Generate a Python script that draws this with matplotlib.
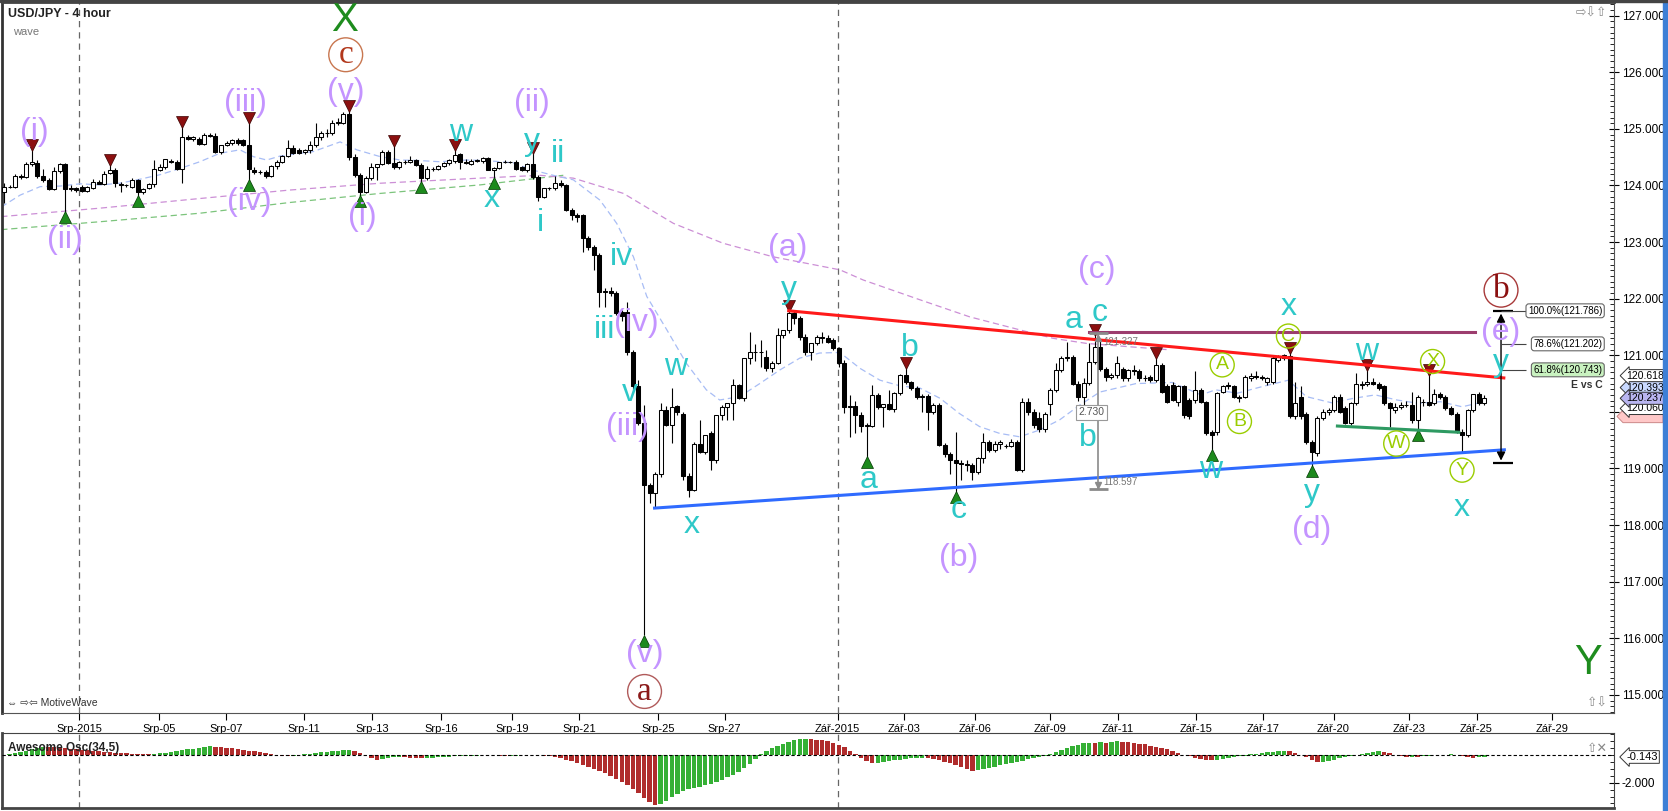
import numpy as np
import matplotlib.pyplot as plt
from matplotlib.ticker import MultipleLocator, FixedLocator
from matplotlib.patches import Rectangle, Polygon

plt.rcParams['font.family'] = ['Liberation Sans', 'DejaVu Sans']

# ---- 4h candles USD/JPY ----
opens = [123.89, 123.98, 123.97, 124.16, 124.15, 124.38, 124.40, 124.17, 124.10, 123.93,
         124.25, 124.38, 123.93, 123.95, 123.97, 123.90, 123.95, 124.07, 124.03, 124.22,
         124.28, 124.03, 124.01, 123.98, 124.09, 123.89, 123.95, 124.02, 124.28, 124.32,
         124.43, 124.42, 124.30, 124.86, 124.83, 124.82, 124.74, 124.89, 124.88, 124.60,
         124.72, 124.75, 124.80, 124.80, 124.72, 124.28, 124.24, 124.24, 124.17, 124.34,
         124.42, 124.52, 124.66, 124.62, 124.60, 124.62, 124.72, 124.86, 124.92, 124.92,
         125.10, 125.10, 125.26, 124.51, 124.19, 123.89, 124.14, 124.32, 124.38, 124.60,
         124.40, 124.32, 124.42, 124.42, 124.45, 124.36, 124.13, 124.30, 124.30, 124.34,
         124.39, 124.43, 124.55, 124.42, 124.38, 124.44, 124.43, 124.48, 124.28, 124.31,
         124.42, 124.42, 124.42, 124.33, 124.27, 124.38, 124.15, 123.80, 123.95, 123.95,
         124.05, 124.00, 123.57, 123.48, 123.48, 123.08, 122.92, 122.77, 122.12, 122.13,
         122.10, 121.76, 121.77, 121.06, 120.45, 119.80, 118.71, 118.56, 118.91, 120.03,
         119.77, 120.10, 119.96, 118.86, 118.62, 119.44, 119.30, 119.62, 119.15, 119.95,
         120.08, 120.15, 120.47, 120.24, 120.95, 121.06, 121.05, 120.97, 120.77, 120.86,
         121.36, 121.45, 121.75, 121.65, 121.33, 121.06, 121.21, 121.32, 121.30, 121.27,
         121.12, 120.86, 120.09, 120.10, 119.94, 119.75, 119.75, 120.30, 120.09, 120.14,
         120.05, 120.33, 120.65, 120.52, 120.43, 120.27, 120.28, 119.99, 120.13, 119.41,
         119.26, 119.15, 119.09, 119.08, 119.07, 118.94, 119.18, 119.47, 119.33, 119.44,
         119.40, 119.40, 119.47, 118.97, 120.18, 120.00, 119.90, 119.70, 120.14, 120.39,
         120.74, 120.96, 120.97, 120.50, 120.27, 120.51, 120.89, 121.15, 120.75, 120.62,
         120.65, 120.75, 120.60, 120.74, 120.73, 120.60, 120.62, 120.56, 120.83, 120.45,
         120.47, 120.18, 120.45, 120.21, 120.21, 120.39, 120.18, 119.65, 119.65, 120.36,
         120.47, 120.45, 120.27, 120.27, 120.59, 120.63, 120.61, 120.53, 120.53, 120.92,
         120.95, 120.98, 119.92, 120.27, 119.97, 119.46, 119.27, 119.89, 120.00, 120.03,
         120.27, 120.06, 119.80, 120.15, 120.47, 120.50, 120.53, 120.50, 120.45, 120.15,
         120.03, 120.09, 120.12, 120.12, 119.86, 120.18, 120.18, 120.15, 120.32, 120.27,
         120.06, 119.97, 119.65, 119.59, 120.03, 120.32, 120.15]
highs = [124.04, 124.01, 124.21, 124.21, 124.42, 124.62, 124.45, 124.29, 124.14, 124.32,
         124.40, 124.40, 124.00, 123.98, 124.00, 123.99, 124.12, 124.10, 124.25, 124.38,
         124.31, 124.06, 124.03, 124.13, 124.12, 123.95, 124.05, 124.45, 124.38, 124.47,
         124.46, 124.45, 125.04, 124.90, 124.88, 124.85, 124.92, 124.92, 124.92, 124.72,
         124.78, 124.82, 124.84, 124.82, 125.10, 124.32, 124.27, 124.28, 124.36, 124.45,
         124.54, 124.80, 124.72, 124.66, 124.65, 124.78, 125.10, 124.97, 125.00, 125.15,
         125.20, 125.30, 125.33, 124.55, 124.22, 124.16, 124.40, 124.38, 124.62, 124.62,
         124.70, 124.44, 124.45, 124.52, 124.47, 124.40, 124.35, 124.33, 124.37, 124.42,
         124.47, 124.63, 124.58, 124.46, 124.46, 124.47, 124.50, 124.50, 124.33, 124.42,
         124.45, 124.44, 124.45, 124.35, 124.40, 124.58, 124.18, 123.95, 123.98, 124.16,
         124.10, 124.02, 123.60, 123.52, 123.50, 123.10, 122.95, 122.80, 122.18, 122.20,
         122.14, 121.80, 121.95, 121.10, 120.56, 120.12, 118.75, 118.94, 120.15, 120.10,
         120.42, 120.12, 120.00, 118.92, 119.47, 119.85, 119.60, 119.66, 119.95, 120.13,
         120.15, 120.58, 120.50, 120.95, 121.42, 121.20, 121.27, 121.10, 120.90, 121.48,
         121.45, 121.79, 121.79, 121.70, 121.38, 121.22, 121.36, 121.42, 121.35, 121.30,
         121.15, 120.92, 120.30, 120.20, 120.00, 119.80, 120.47, 120.33, 120.14, 120.39,
         120.35, 120.67, 120.77, 120.55, 120.45, 120.32, 120.31, 120.16, 120.15, 119.45,
         119.30, 119.65, 119.15, 119.15, 119.10, 119.20, 119.63, 119.50, 119.48, 119.50,
         119.43, 119.52, 119.50, 120.24, 120.25, 120.05, 120.00, 120.00, 120.43, 120.86,
         120.98, 121.24, 121.00, 120.55, 120.59, 121.21, 121.36, 121.25, 120.80, 120.68,
         120.99, 120.80, 120.75, 120.83, 120.76, 120.65, 120.65, 120.95, 120.86, 120.50,
         120.52, 120.47, 120.48, 120.25, 120.72, 120.42, 120.20, 119.68, 120.35, 120.48,
         120.52, 120.48, 120.30, 120.65, 120.68, 120.72, 120.65, 120.62, 120.98, 121.00,
         121.03, 121.05, 120.53, 120.45, 120.00, 119.50, 119.92, 120.05, 120.07, 120.30,
         120.32, 120.10, 120.18, 120.68, 120.55, 120.74, 120.60, 120.52, 120.48, 120.18,
         120.15, 120.18, 120.20, 120.36, 120.30, 120.22, 120.65, 120.40, 120.36, 120.30,
         120.10, 120.00, 119.70, 120.05, 120.32, 120.36, 120.30]
lows = [123.69, 123.95, 123.96, 124.11, 124.14, 124.34, 124.14, 124.07, 123.92, 123.92,
        124.22, 123.54, 123.90, 123.88, 123.88, 123.88, 123.93, 124.02, 124.00, 124.20,
        123.98, 123.89, 123.98, 123.95, 123.81, 123.85, 123.93, 123.98, 124.25, 124.30,
        124.40, 124.27, 124.04, 124.80, 124.78, 124.72, 124.72, 124.86, 124.58, 124.55,
        124.70, 124.72, 124.72, 124.70, 124.10, 124.20, 124.20, 124.14, 124.15, 124.30,
        124.40, 124.50, 124.55, 124.55, 124.56, 124.58, 124.68, 124.80, 124.85, 124.90,
        125.06, 125.08, 124.45, 124.15, 123.81, 123.86, 124.10, 124.09, 124.36, 124.38,
        124.30, 124.30, 124.38, 124.40, 124.35, 124.07, 124.10, 124.25, 124.28, 124.32,
        124.36, 124.40, 124.30, 124.38, 124.36, 124.41, 124.40, 124.27, 124.13, 124.29,
        124.39, 124.40, 124.27, 124.26, 124.24, 124.12, 123.72, 123.78, 123.92, 123.92,
        123.97, 123.55, 123.39, 123.36, 122.83, 122.86, 122.51, 121.86, 121.86, 122.05,
        121.72, 121.60, 121.00, 120.39, 119.76, 116.05, 118.39, 118.30, 118.85, 119.75,
        119.45, 119.95, 118.80, 118.50, 118.60, 119.28, 119.25, 118.97, 119.10, 119.85,
        119.85, 119.85, 120.22, 120.20, 120.85, 120.90, 120.80, 120.73, 120.70, 120.85,
        121.30, 121.40, 121.55, 121.27, 121.00, 120.92, 121.18, 121.22, 121.22, 121.10,
        120.80, 119.98, 119.56, 119.62, 119.65, 119.21, 119.73, 120.05, 119.74, 120.04,
        119.99, 120.30, 120.50, 120.38, 120.22, 120.00, 119.68, 119.97, 119.40, 119.20,
        118.91, 118.59, 118.80, 118.95, 118.80, 118.90, 119.10, 119.30, 119.30, 119.35,
        119.36, 119.38, 118.95, 118.93, 119.95, 119.72, 119.65, 119.65, 119.95, 120.35,
        120.70, 120.90, 120.47, 120.20, 120.10, 120.48, 120.85, 120.72, 120.55, 120.58,
        120.60, 120.55, 120.55, 120.65, 120.55, 120.55, 120.52, 120.52, 120.33, 120.15,
        120.20, 120.10, 119.90, 119.88, 120.15, 120.16, 119.60, 119.33, 119.60, 120.33,
        120.40, 120.25, 120.18, 120.24, 120.55, 120.58, 120.56, 120.48, 120.50, 120.88,
        120.92, 119.90, 119.88, 119.88, 119.44, 119.05, 119.22, 119.85, 119.95, 120.00,
        119.98, 119.78, 119.76, 120.12, 120.40, 120.45, 120.48, 120.38, 120.12, 119.74,
        119.98, 120.05, 120.08, 119.80, 119.68, 120.10, 120.10, 120.12, 120.22, 120.04,
        119.94, 119.62, 119.30, 119.55, 120.00, 120.12, 120.12]
closes = [123.98, 123.97, 124.16, 124.15, 124.38, 124.42, 124.17, 124.10, 123.93, 124.26,
          124.38, 123.93, 123.95, 123.92, 123.90, 123.97, 124.07, 124.03, 124.21, 124.28,
          124.04, 124.01, 124.00, 124.09, 123.89, 123.93, 124.02, 124.30, 124.32, 124.46,
          124.42, 124.30, 124.86, 124.83, 124.85, 124.74, 124.89, 124.88, 124.60, 124.71,
          124.75, 124.80, 124.75, 124.72, 124.30, 124.24, 124.23, 124.17, 124.34, 124.42,
          124.52, 124.66, 124.58, 124.57, 124.62, 124.72, 124.86, 124.92, 124.93, 125.10,
          125.12, 125.26, 124.51, 124.19, 123.89, 124.14, 124.32, 124.38, 124.60, 124.39,
          124.32, 124.42, 124.42, 124.45, 124.36, 124.13, 124.30, 124.30, 124.34, 124.39,
          124.45, 124.54, 124.42, 124.40, 124.44, 124.45, 124.48, 124.28, 124.31, 124.42,
          124.42, 124.42, 124.29, 124.27, 124.38, 124.15, 123.80, 123.95, 123.95, 124.05,
          124.00, 123.57, 123.48, 123.45, 123.08, 122.92, 122.77, 122.12, 122.13, 122.10,
          121.74, 121.70, 121.06, 120.45, 119.80, 118.71, 118.56, 118.91, 120.03, 119.77,
          120.09, 120.00, 118.86, 118.62, 119.44, 119.30, 119.59, 119.15, 119.95, 120.08,
          120.15, 120.47, 120.24, 120.95, 121.06, 121.05, 121.05, 120.77, 120.86, 121.36,
          121.45, 121.75, 121.65, 121.33, 121.06, 121.21, 121.32, 121.30, 121.24, 121.12,
          120.86, 120.09, 120.10, 119.94, 119.75, 119.76, 120.30, 120.09, 120.14, 120.05,
          120.33, 120.65, 120.52, 120.43, 120.27, 120.28, 119.99, 120.13, 119.41, 119.26,
          119.15, 119.09, 119.08, 119.07, 118.94, 119.18, 119.47, 119.33, 119.44, 119.46,
          119.40, 119.47, 118.97, 120.18, 120.00, 119.77, 119.70, 119.97, 120.39, 120.74,
          120.96, 120.97, 120.50, 120.27, 120.51, 120.89, 121.15, 120.75, 120.62, 120.65,
          120.86, 120.60, 120.74, 120.73, 120.60, 120.59, 120.56, 120.83, 120.36, 120.18,
          120.21, 120.45, 119.95, 119.92, 120.39, 120.18, 119.62, 119.59, 120.33, 120.45,
          120.45, 120.27, 120.24, 120.62, 120.63, 120.62, 120.60, 120.59, 120.95, 120.98,
          121.00, 119.92, 120.15, 119.92, 119.46, 119.30, 119.89, 120.00, 120.03, 120.27,
          120.00, 119.80, 120.15, 120.50, 120.50, 120.53, 120.50, 120.42, 120.15, 120.06,
          120.09, 120.12, 120.12, 119.86, 120.27, 120.18, 120.12, 120.32, 120.27, 120.06,
          119.97, 119.65, 119.59, 120.03, 120.32, 120.15, 120.24]

# Awesome oscillator (34,5), one value per candle
ao_values = [0.02, 0.08, 0.15, 0.23, 0.32, 0.42, 0.52, 0.60, 0.58, 0.55,
             0.52, 0.48, 0.45, 0.42, 0.38, 0.35, 0.32, 0.28, 0.24, 0.20,
             0.17, 0.14, 0.12, 0.10, 0.08, 0.06, 0.05, 0.08, 0.12, 0.17,
             0.22, 0.28, 0.34, 0.40, 0.46, 0.52, 0.57, 0.62, 0.60, 0.57,
             0.53, 0.48, 0.43, 0.38, 0.32, 0.26, 0.20, 0.14, 0.07, 0.00,
             -0.06, -0.10, -0.06, 0.00, 0.05, 0.10, 0.15, 0.19, 0.23, 0.27,
             0.30, 0.33, 0.36, 0.30, 0.15, 0.00, -0.20, -0.36, -0.30, -0.22,
             -0.15, -0.15, -0.18, -0.20, -0.22, -0.25, -0.23, -0.20, -0.18, -0.15,
             -0.12, -0.10, -0.08, -0.06, -0.05, -0.04, -0.03, -0.02, -0.03, -0.05,
             -0.06, -0.05, -0.04, -0.03, -0.02, -0.01, 0.00, -0.05, -0.10, -0.17,
             -0.25, -0.35, -0.46, -0.58, -0.71, -0.85, -1.00, -1.16, -1.33, -1.52,
             -1.72, -1.95, -2.20, -2.48, -2.78, -3.10, -3.40, -3.62, -3.55, -3.30,
             -3.00, -2.80, -2.60, -2.45, -2.35, -2.28, -2.20, -2.10, -1.95, -1.80,
             -1.62, -1.42, -1.20, -0.95, -0.65, -0.30, 0.05, 0.30, 0.50, 0.68,
             0.82, 0.95, 1.05, 1.13, 1.18, 1.16, 1.12, 1.06, 0.98, 0.88,
             0.75, 0.55, 0.30, 0.05, -0.20, -0.42, -0.60, -0.58, -0.52, -0.45,
             -0.38, -0.33, -0.28, -0.25, -0.22, -0.20, -0.24, -0.30, -0.38, -0.47,
             -0.58, -0.70, -0.85, -1.00, -1.12, -1.10, -1.02, -0.93, -0.84, -0.75,
             -0.66, -0.57, -0.48, -0.40, -0.32, -0.24, -0.16, -0.08, 0.05, 0.20,
             0.35, 0.50, 0.62, 0.74, 0.84, 0.90, 0.88, 0.92, 0.89, 0.95,
             1.00, 0.97, 0.93, 0.88, 0.82, 0.76, 0.68, 0.60, 0.50, 0.40,
             0.28, 0.15, 0.02, -0.10, -0.20, -0.28, -0.34, -0.38, -0.36, -0.30,
             -0.24, -0.17, -0.10, -0.04, 0.04, 0.10, 0.16, 0.21, 0.25, 0.28,
             0.30, 0.26, 0.15, 0.02, -0.15, -0.35, -0.52, -0.50, -0.42, -0.33,
             -0.25, -0.17, -0.10, -0.03, 0.05, 0.14, 0.22, 0.28, 0.22, 0.12,
             0.02, -0.08, -0.15, -0.12, -0.14, -0.10, -0.06, -0.03, 0.00, 0.03,
             0.05, 0.00, -0.08, -0.16, -0.22, -0.18, -0.14]

# moving averages drawn on the chart (bar index, price)
ma_fast_x = [-0.5, 2.9, 6.5, 10.1, 13.7, 17.3, 20.8, 24.4, 28.0, 31.6, 35.2, 38.8, 42.4, 44.8,
             47.2, 49.6, 55.6, 60.4, 63.4, 67.6, 71.2, 74.8, 78.3, 83.1, 86.7, 91.5, 95.1, 98.7,
             102.3, 107.1, 110.1, 113.1, 115.5, 119.1, 122.6, 126.2, 128.6, 132.2, 135.8, 139.4,
             143.0, 146.6, 150.2, 153.8, 157.4, 161.0, 164.6, 168.2, 171.7, 175.3, 178.9, 182.5,
             186.1, 189.7, 193.3, 196.9, 203.4, 209.9, 215.1, 217.7, 221.6, 226.2, 230.8, 234.0,
             238.6, 242.5, 246.4, 250.3, 254.2, 258.1, 262.0, 266.0]
ma_fast_y = [123.62, 123.83, 123.98, 123.99, 124.03, 124.01, 124.04, 124.11, 124.19, 124.30,
             124.42, 124.57, 124.63, 124.51, 124.45, 124.52, 124.60, 124.77, 124.63, 124.51,
             124.45, 124.44, 124.42, 124.45, 124.44, 124.40, 124.27, 124.18, 124.10, 123.74,
             123.33, 122.74, 122.04, 121.45, 120.86, 120.39, 120.21, 120.27, 120.50, 120.74,
             120.95, 121.04, 121.05, 120.77, 120.56, 120.46, 120.42, 120.24, 119.97, 119.74,
             119.62, 119.56, 119.68, 119.86, 120.12, 120.35, 120.50, 120.52, 120.30, 120.39,
             120.33, 120.45, 120.56, 120.27, 120.16, 120.24, 120.30, 120.21, 120.15, 120.18,
             120.09, 120.18]
ma_mid_x = [-0.5, 17.3, 35.2, 51.4, 67.6, 85.5, 96.3, 102.3, 111.3, 120.3, 129.2, 138.2,
            150.2, 154.4, 164.6, 173.5, 182.5, 188.5, 194.5, 201.0, 209.0]
ma_mid_y = [123.45, 123.60, 123.77, 123.92, 124.04, 124.13, 124.18, 124.13, 123.86, 123.33,
            122.98, 122.74, 122.51, 122.33, 121.98, 121.68, 121.45, 121.30, 121.21, 121.16, 121.10]
ma_slow_x = [-0.5, 17.3, 35.2, 51.4, 67.6, 85.5, 100.5]
ma_slow_y = [123.22, 123.36, 123.51, 123.70, 123.86, 124.01, 124.18]

# swing markers
swing_high_x = [5, 19, 32, 44, 62, 70, 81, 95, 141, 162, 196, 207, 231, 245, 256]
swing_high_y = [124.72, 124.45, 125.13, 125.19, 125.41, 124.79, 124.72, 124.67, 121.87,
                120.86, 121.45, 121.04, 121.13, 120.83, 120.74]
swing_low_x = [11, 24, 44, 64, 75, 88, 115, 155, 171, 217, 235, 254]
swing_low_y = [123.45, 123.72, 124.01, 123.72, 123.98, 124.04, 115.96, 119.12, 118.50,
               119.24, 118.96, 119.59]

date_ticks = [13.5, 27.8, 39.9, 53.9, 66.1, 78.6, 91.3, 103.4, 117.5, 129.5, 149.8, 161.7,
              174.4, 188.0, 200.1, 214.2, 226.2, 238.9, 252.4, 264.6, 278.1]
date_labels = ['Srp-2015', 'Srp-05', 'Srp-07', 'Srp-11', 'Srp-13', 'Srp-16', 'Srp-19',
               'Srp-21', 'Srp-25', 'Srp-27', 'Zář-2015', 'Zář-03', 'Zář-06', 'Zář-09',
               'Zář-11', 'Zář-15', 'Zář-17', 'Zář-20', 'Zář-23', 'Zář-25', 'Zář-29']
month_starts = [13.5, 149.8]

fib_levels = [121.786, 121.202, 120.743]
fib_names = ['100.0%', '78.6%', '61.8%']

LAV = '#c494ff'
CYAN = '#2ec8c8'
YG = '#9acd00'

n = len(closes)
x = np.arange(n)
o = np.array(opens); h = np.array(highs); l = np.array(lows); c = np.array(closes)
up = c >= o

W, H = 1668, 811
fig = plt.figure(figsize=(W / 100, H / 100), dpi=100)
ax = fig.add_axes([2 / W, 1 - 712.7 / H, 1612 / W, 710.7 / H])
osc = fig.add_axes([2 / W, 1 - 808 / H, 1612 / W, 75 / H])

# moving averages
ax.plot(ma_slow_x, ma_slow_y, color='#7cc47c', lw=0.9, dashes=(5, 3), zorder=1)
ax.plot(ma_mid_x, ma_mid_y, color='#cc8fd6', lw=0.9, dashes=(5, 3), zorder=1)
ax.plot(ma_fast_x, ma_fast_y, color='#a8bdf5', lw=0.9, dashes=(5, 3), zorder=1)

# candles
ax.vlines(x, l, h, color='black', lw=0.8, zorder=3)
ax.bar(x[up], (c - o)[up], bottom=o[up], width=0.72, facecolor='white', edgecolor='black',
       lw=0.75, zorder=4)
ax.bar(x[~up], (c - o)[~up], bottom=o[~up], width=0.72, facecolor='black', edgecolor='black',
       lw=0.75, zorder=4)

ax.plot(swing_high_x, swing_high_y, 'v', color='#8b1010', mec='#3a0000', mew=0.5, ms=8, zorder=5)
ax.plot(swing_low_x, swing_low_y, '^', color='#1d8a1d', mec='#003800', mew=0.5, ms=8, zorder=5)

# trend lines
ax.plot([141, 269.5], [121.786, 120.60], color='#ff1a1a', lw=2.2, zorder=6)
ax.plot([116.9, 269.6], [118.30, 119.33], color='#2f6bff', lw=2.2, zorder=6)
ax.plot([195, 264.3], [121.41, 121.41], color='#9c3d6e', lw=2.2, zorder=6)
ax.plot([239.6, 261.4], [119.75, 119.64], color='#2e9a62', lw=2.2, zorder=6)

# measuring tool at wave c
mx = 196.6
ax.plot([mx, mx], [121.39, 118.63], color='#8a8a8a', lw=1.2, zorder=6)
ax.hlines([121.39, 118.63], 195.0, 198.4, color='#8a8a8a', lw=2.0, zorder=6)
ax.plot([mx], [121.30], '^', color='#8a8a8a', ms=4, zorder=6)
ax.plot([mx], [118.70], 'v', color='#8a8a8a', ms=4, zorder=6)
ax.text(197.6, 121.24, '121.327', fontsize=7, color='#777777', va='center', zorder=7)
ax.text(197.6, 118.76, '118.597', fontsize=7, color='#777777', va='center', zorder=7)
ax.text(195.4, 119.99, '2.730', fontsize=7.5, color='#555555', ha='center', va='center', zorder=7,
        bbox=dict(boxstyle='square,pad=0.25', fc='white', ec='#999999', lw=0.8))

# fibonacci projection tool
fx = 269.0
ax.annotate('', xy=(fx, 121.786), xytext=(fx, 119.09),
            arrowprops=dict(arrowstyle='<|-|>,head_length=0.5,head_width=0.25', color='black', lw=1.0),
            zorder=7)
ax.hlines([121.786, 119.09], 267.6, 271.2, color='black', lw=1.6, zorder=7)
for lev, name in zip(fib_levels, fib_names):
    ax.hlines(lev, fx, 273.5, color='#444444', lw=0.8, zorder=7)
    fc = '#c9f2c0' if name == '61.8%' else 'white'
    ax.text(287.2, lev, f'{name}({lev:.3f})', fontsize=7, ha='right', va='center', zorder=8,
            bbox=dict(boxstyle='round,pad=0.2,rounding_size=0.3', fc=fc, ec='#666666', lw=0.8))
ax.text(287.2, 120.47, 'E vs C', fontsize=7.5, ha='right', va='center', fontweight='bold',
        color='#333333', zorder=8)

# wave labels
lav_labels = [('(i)', 5.4, 124.95), ('(ii)', 11.0, 123.04), ('(iii)', 43.4, 125.45),
              ('(iv)', 44.1, 123.71), ('(v)', 61.4, 125.66), ('(i)', 64.4, 123.45),
              ('(ii)', 94.9, 125.45), ('(iv)', 113.7, 121.57), ('(iii)', 112.0, 119.74),
              ('(v)', 115.1, 115.73), ('(a)', 140.9, 122.89), ('(b)', 171.5, 117.41),
              ('(c)', 196.4, 122.50), ('(d)', 235.0, 117.91), ('(e)', 269.0, 121.42)]
cyan_labels = [('w', 82.1, 124.92), ('x', 87.7, 123.76), ('y', 94.9, 124.77), ('i', 96.4, 123.33),
               ('ii', 99.5, 124.56), ('iv', 111.0, 122.74), ('iii', 108.0, 121.45),
               ('v', 112.5, 120.33), ('w', 120.6, 120.80), ('x', 123.6, 118.00),
               ('y', 141.1, 122.15), ('a', 155.3, 118.80), ('b', 162.8, 121.12),
               ('c', 171.5, 118.27), ('a', 192.2, 121.62), ('c', 196.9, 121.74),
               ('b', 194.8, 119.53), ('w', 216.8, 118.97), ('x', 230.8, 121.86),
               ('y', 235.0, 118.56), ('w', 244.8, 121.06), ('x', 262.0, 118.30),
               ('y', 269.0, 120.86)]
small_circles = [('A', 218.9, 120.83), ('B', 222.0, 119.83), ('C', 230.8, 121.34),
                 ('W', 250.2, 119.44), ('X', 256.7, 120.89), ('Y', 262.0, 118.97)]
big_circles = [('c', 61.4, 126.31, '#b2381c', '#c8764f'), ('a', 115.1, 115.06, '#8b1a1a', '#b05a5a'),
               ('b', 269.0, 122.15, '#8b1010', '#a83a3a')]

for s, xi, yi in lav_labels:
    ax.text(xi, yi, s, color=LAV, fontsize=23, ha='center', va='center', zorder=9)
for s, xi, yi in cyan_labels:
    ax.text(xi, yi, s, color=CYAN, fontsize=23, ha='center', va='center', zorder=9)
for s, xi, yi in small_circles:
    ax.text(xi, yi, s, color=YG, fontsize=14, ha='center', va='center', zorder=9,
            bbox=dict(boxstyle='circle,pad=0.18', fc='none', ec=YG, lw=1.0))
for s, xi, yi, tc, ec in big_circles:
    ax.text(xi, yi, s, color=tc, fontsize=24, ha='center', va='center', zorder=9,
            family='Liberation Serif', bbox=dict(boxstyle='circle,pad=0.05', fc='none', ec=ec, lw=1.0))
ax.text(61.2, 126.93, 'X', color='#1e8c1e', fontsize=29, ha='center', va='center', zorder=9)
ax.text(284.6, 115.56, 'Y', color='#1e8c1e', fontsize=30, ha='center', va='center', zorder=9)

# month separators
for m in month_starts:
    ax.axvline(m, color='#666666', lw=0.9, dashes=(5, 4), zorder=0)
    osc.axvline(m, color='#666666', lw=0.9, dashes=(5, 4), zorder=0)

# main axes styling
ax.set_xlim(-0.36, 289.3)
ax.set_ylim(114.685, 127.242)
ax.yaxis.tick_right()
ax.yaxis.set_major_locator(FixedLocator(np.arange(115, 128)))
ax.set_yticklabels([f'{v:.3f}' for v in np.arange(115, 128)])
ax.yaxis.set_minor_locator(MultipleLocator(0.1))
ax.tick_params(axis='y', which='major', direction='inout', length=7, width=0.8, labelsize=8.5, pad=2)
ax.tick_params(axis='y', which='minor', direction='in', length=3, width=0.6)
ax.set_xticks(date_ticks)
ax.set_xticklabels(date_labels)
ax.tick_params(axis='x', direction='out', length=5, width=0.8, labelsize=8, pad=3)
for t in ax.get_xticklabels():
    t.set_fontfamily(['Liberation Sans Narrow', 'Liberation Sans'])
for sp in ax.spines.values():
    sp.set_color('#555555')
ax.spines['left'].set_color('#333333')
ax.spines['left'].set_linewidth(2)
ax.spines['top'].set_color('#444444')
ax.spines['top'].set_linewidth(2)

ax.text(0.004, 0.992, 'USD/JPY - 4 hour', transform=ax.transAxes, fontsize=9, fontweight='bold',
        va='top', color='#222222')
ax.text(0.007, 0.965, 'wave', transform=ax.transAxes, fontsize=8, va='top', color='#777777')
ax.text(0.003, 0.014, '⇔ ⇨⇦ MotiveWave', transform=ax.transAxes, fontsize=7.5, va='center',
        color='#333333', family=['Liberation Sans', 'DejaVu Sans'])
ax.text(0.996, 0.985, '⇨⇩⇧', transform=ax.transAxes, fontsize=9, ha='right', va='center',
        color='#888888', family='DejaVu Sans')
ax.text(0.996, 0.014, '⇧⇩', transform=ax.transAxes, fontsize=9, ha='right', va='center',
        color='#888888', family='DejaVu Sans')

# price tags on the right (stacked like the platform draws them)
ytr = ax.get_yaxis_transform()
px = 1.0 / 1612
pink_y, half = 119.92, 0.11
ax.add_patch(Polygon([(1 + 3 * px, pink_y), (1 + 9 * px, pink_y + half), (1 + 49 * px, pink_y + half),
                      (1 + 49 * px, pink_y - half), (1 + 9 * px, pink_y - half)], closed=True,
                     transform=ytr, fc='#ffc8c8', ec='#cc8888', lw=0.7, clip_on=False, zorder=9))
tags = [('120.060', 120.06, 'white'), ('120.393', 120.43, '#c9d9ff'),
        ('120.237', 120.24, '#b9b5f0'), ('120.618', 120.64, 'white')]
for txt, yv, fc in tags:
    ax.annotate(txt, xy=(1.0, yv), xycoords=ytr, xytext=(9, 0),
                textcoords='offset points', fontsize=7.5, va='center', ha='left', annotation_clip=False,
                bbox=dict(boxstyle='larrow,pad=0.1', fc=fc, ec='#333333', lw=0.7), zorder=10)

# awesome oscillator
ao = np.array(ao_values)
prev = np.concatenate([[ao[0]], ao[:-1]])
ao_colors = np.where(ao >= prev, '#35b035', '#b02c2c')
osc.bar(x, ao, width=0.8, color=ao_colors, edgecolor='none', zorder=2)
osc.axhline(0, color='black', lw=0.8, dashes=(3, 2), zorder=3)
osc.set_xlim(-0.36, 289.3)
osc.set_ylim(-3.83, 1.59)
osc.yaxis.tick_right()
osc.set_yticks([-2])
osc.set_yticklabels(['-2.000'])
osc.yaxis.set_minor_locator(MultipleLocator(0.5))
osc.tick_params(axis='y', which='major', direction='inout', length=7, labelsize=8.5, pad=2)
osc.tick_params(axis='y', which='minor', direction='in', length=3)
osc.set_xticks([])
for sp in osc.spines.values():
    sp.set_color('#444444')
osc.spines['bottom'].set_linewidth(2)
osc.spines['left'].set_linewidth(2)
osc.text(0.004, 0.80, 'Awesome Osc(34,5)', transform=osc.transAxes, fontsize=8.5,
         fontweight='bold', va='center', color='#222222')
osc.annotate('-0.143', xy=(1.0, -0.143), xycoords=osc.get_yaxis_transform(), xytext=(9, 0),
             textcoords='offset points', fontsize=8, va='center', ha='left', annotation_clip=False,
             bbox=dict(boxstyle='larrow,pad=0.12', fc='white', ec='#333333', lw=0.7))
osc.text(0.996, 0.8, '⇧✕', transform=osc.transAxes, fontsize=9, ha='right', va='center',
         color='#888888', family='DejaVu Sans')

# outer frame
fig.patches.append(Rectangle((1663 / W, 0), 5 / W, 1, transform=fig.transFigure,
                             color='#3d7fd6', zorder=0))
fig.patches.append(Rectangle((0, 1 - 2 / H), 1, 2 / H, transform=fig.transFigure,
                             color='#444444', zorder=0))

fig.savefig('out.png', dpi=100)
